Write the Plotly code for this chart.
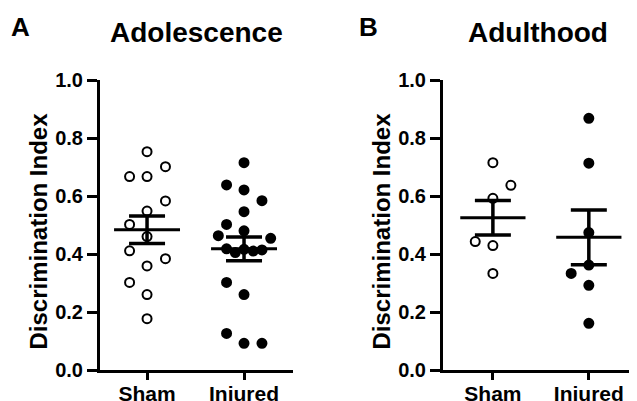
import numpy as np
import plotly.graph_objects as go

# ---------------- data ----------------
groups = ["Sham", "Injured"]
panel_titles = ["Adolescence", "Adulthood"]
panel_letters = ["A", "B"]
y_ticks = [0.0, 0.2, 0.4, 0.6, 0.8, 1.0]

sham_adolescence = [0.753, 0.701, 0.667, 0.667, 0.583, 0.548, 0.502, 0.460,
                    0.411, 0.384, 0.359, 0.302, 0.260, 0.177]
injured_adolescence = [0.715, 0.638, 0.621, 0.584, 0.546, 0.502, 0.480, 0.463,
                       0.454, 0.418, 0.405, 0.416, 0.410, 0.414, 0.302, 0.260,
                       0.126, 0.092, 0.092]
sham_adulthood = [0.715, 0.637, 0.592, 0.443, 0.429, 0.333]
injured_adulthood = [0.868, 0.713, 0.474, 0.362, 0.333, 0.292, 0.161]

# horizontal scatter (beeswarm) offsets, in category units
sham_adolescence_jitter = [0, 0.19, -0.18, 0, 0.19, 0, -0.18, 0, -0.18, 0.19,
                           0, -0.18, 0, 0]
injured_adolescence_jitter = [0, -0.18, 0, 0.185, 0, -0.18, 0, -0.265, 0.275,
                              -0.18, -0.09, 0, 0.095, 0.185, -0.18, 0, -0.18,
                              0, 0.185]
sham_adulthood_jitter = [0, 0.1875, 0, -0.184, 0, 0]
injured_adulthood_jitter = [0, 0, 0, 0, -0.184, 0, 0]

# ---------------- figure ----------------
# page has an 8px body margin; size the figure so it fits the 637x401 window
PAGE_W, PAGE_H, OFF = 637, 401, 8
W, H = PAGE_W - OFF, PAGE_H - OFF
FONT = "Liberation Sans"


def fx(px):  # page x pixel -> paper fraction
    return (px - OFF) / W


def fy(py):  # page y pixel (from top) -> paper fraction
    return 1 - (py - OFF) / H


fig = go.Figure()

panels = [
    dict(xa="x", ya="y", data=[(sham_adolescence, sham_adolescence_jitter),
                               (injured_adolescence, injured_adolescence_jitter)]),
    dict(xa="x2", ya="y2", data=[(sham_adulthood, sham_adulthood_jitter),
                                 (injured_adulthood, injured_adulthood_jitter)]),
]

for p in panels:
    for gi, (vals, jit) in enumerate(p["data"]):
        vals = np.array(vals)
        xs = gi + np.array(jit)
        fill = "white" if gi == 0 else "black"
        fig.add_trace(go.Scatter(
            x=xs, y=vals, mode="markers", xaxis=p["xa"], yaxis=p["ya"],
            marker=dict(symbol="circle", size=9, color=fill,
                        line=dict(color="black", width=2)),
            showlegend=False, hoverinfo="skip"))
        mean = vals.mean()
        sem = vals.std(ddof=1) / np.sqrt(len(vals))
        # mean line
        fig.add_trace(go.Scatter(
            x=[gi - 0.34, gi + 0.34], y=[mean, mean], mode="lines",
            xaxis=p["xa"], yaxis=p["ya"],
            line=dict(color="black", width=3),
            showlegend=False, hoverinfo="skip"))
        # SEM error bar
        fig.add_trace(go.Scatter(
            x=[gi], y=[mean], mode="markers", xaxis=p["xa"], yaxis=p["ya"],
            marker=dict(size=1, color="rgba(0,0,0,0)"),
            error_y=dict(type="data", array=[sem], visible=True,
                         color="black", thickness=3.5, width=18),
            showlegend=False, hoverinfo="skip"))

ydom = [fy(370), fy(80)]
axis_common = dict(showline=True, linecolor="black", linewidth=3,
                   ticks="outside", tickcolor="black", tickwidth=3,
                   showgrid=False, zeroline=False, automargin=False)
xfont = dict(family=FONT, size=21, color="black", weight="bold")
yfont = dict(family=FONT, size=20, color="black", weight="bold")

fig.update_layout(
    template="none",
    width=W, height=H, margin=dict(l=0, r=0, t=0, b=0, autoexpand=False),
    paper_bgcolor="white", plot_bgcolor="white",
    xaxis=dict(domain=[fx(100), fx(293)], range=[-0.485, 1.505],
               tickvals=[0, 1], ticktext=groups, ticklen=7, tickfont=xfont,
               ticklabelstandoff=-4, anchor="y", **axis_common),
    xaxis2=dict(domain=[fx(443), fx(632)], range=[-0.52, 1.45],
                tickvals=[0, 1], ticktext=groups, ticklen=7, tickfont=xfont,
                ticklabelstandoff=-4, anchor="y2", **axis_common),
    yaxis=dict(domain=ydom, range=[0, 1], tickvals=y_ticks,
               tickformat=".1f", ticklen=10, tickfont=yfont, anchor="x",
               **axis_common),
    yaxis2=dict(domain=ydom, range=[0, 1], tickvals=y_ticks,
                tickformat=".1f", ticklen=10, tickfont=yfont, anchor="x2",
                **axis_common),
)

annots = []
title_x = [(100 + 293) / 2, (443 + 632) / 2]
letter_x = [21, 368]
ytitle_x = [37.5, 380.5]
for i in range(2):
    annots.append(dict(text=panel_titles[i], x=fx(title_x[i]), y=fy(33),
                       xref="paper", yref="paper", xanchor="center",
                       yanchor="middle", showarrow=False,
                       font=dict(family=FONT, size=28, color="black",
                                 weight="bold")))
    annots.append(dict(text=panel_letters[i], x=fx(letter_x[i]), y=fy(27),
                       xref="paper", yref="paper", xanchor="center",
                       yanchor="middle", showarrow=False,
                       font=dict(family=FONT, size=26, color="black",
                                 weight="bold")))
    annots.append(dict(text="Discrimination Index", x=fx(ytitle_x[i]),
                       y=fy(231), xref="paper", yref="paper",
                       xanchor="center", yanchor="middle", textangle=-90,
                       showarrow=False,
                       font=dict(family=FONT, size=24, color="black",
                                 weight="bold")))
fig.update_layout(annotations=annots)

fig.write_html("out.html")
